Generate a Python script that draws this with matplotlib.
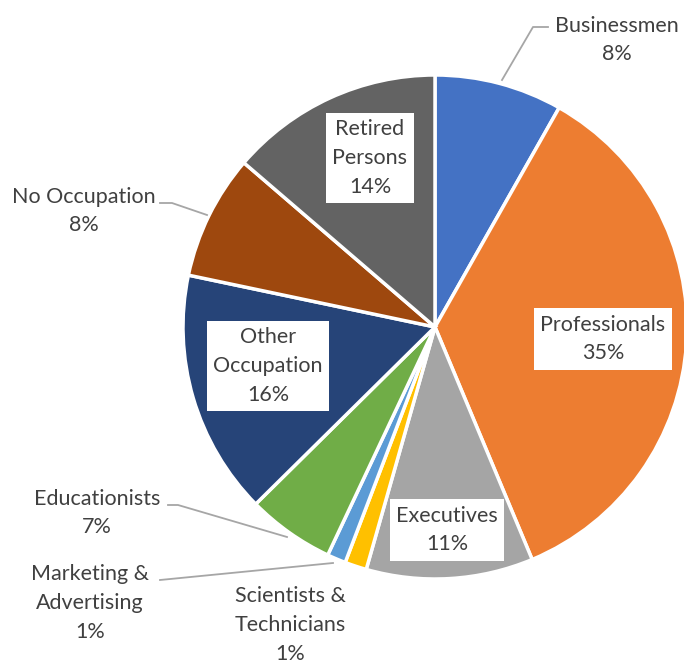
import matplotlib.pyplot as plt

plt.rcParams['font.family'] = ['Lato', 'DejaVu Sans']

# slice shares, clockwise from 12 o'clock
categories = ["Businessmen", "Professionals", "Executives",
              "Scientists &\nTechnicians", "Marketing &\nAdvertising",
              "Educationists", "Other\nOccupation", "No Occupation",
              "Retired\nPersons"]
shares = [8.2, 35.5, 10.7, 1.4, 1.2, 5.6, 15.7, 8.0, 13.7]
pct_labels = ["8%", "35%", "11%", "1%", "1%", "7%", "16%", "8%", "14%"]
colors = ["#4472C4", "#ED7D31", "#A5A5A5", "#FFC000", "#5B9BD5",
          "#70AD47", "#264478", "#9E480E", "#636363"]

W, H = 684, 667
TEXT = "#404040"
LEADER = "#A6A6A6"

fig = plt.figure(figsize=(W / 100, H / 100), dpi=100)
ax = fig.add_axes([0, 0, 1, 1])

# pixel-space helper: image y runs downwards
def py(y):
    return H - y

ax.pie(shares, colors=colors, startangle=90, counterclock=False,
       center=(435, py(327)), radius=252,
       wedgeprops=dict(edgecolor="white", linewidth=2.5))
ax.set_xlim(0, W)
ax.set_ylim(0, H)
ax.set_aspect("equal")
ax.axis("off")

# label placement (pixel coords), boxed=True for the white label boxes
placements = [
    (617, 40, False),
    (603, 339, True),
    (447, 530, True),
    (290, 625, False),
    (90, 603, False),
    (97, 513, False),
    (268, 366, True),
    (84, 211, False),
    (370, 158, True),
]

for name, pct, (x, y, boxed) in zip(categories, pct_labels, placements):
    txt = f"{name}\n{pct}"
    kw = dict(ha="center", va="center", fontsize=15.5, color=TEXT,
              linespacing=1.55)
    if boxed:
        kw["bbox"] = dict(boxstyle="square,pad=0.3", fc="white", ec="none")
    ax.text(x, py(y), txt, **kw)

# leader lines
leaders = [
    [(502, 80), (533, 27), (548, 27)],
    [(160, 203), (172, 203), (207, 215)],
    [(168, 505), (178, 505), (287, 537)],
    [(160, 580), (333, 563)],
]
for pts in leaders:
    xs = [p[0] for p in pts]
    ys = [py(p[1]) for p in pts]
    ax.plot(xs, ys, color=LEADER, linewidth=1.3)

fig.savefig("out.png", dpi=100)
